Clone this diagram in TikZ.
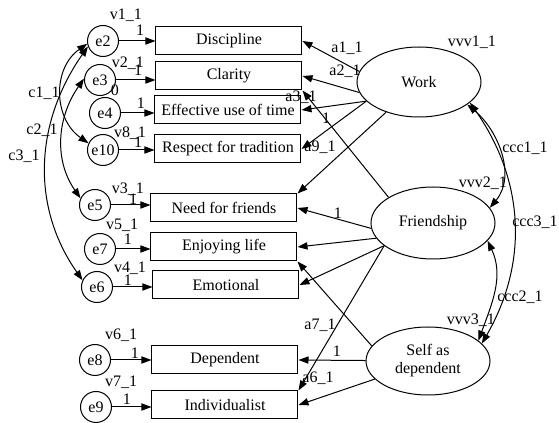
\documentclass[tikz,border=0pt]{standalone}
\usepackage{fontspec}
\setmainfont{Liberation Serif}
\usepackage{tikz}
\usetikzlibrary{shapes.geometric}
\usetikzlibrary{arrows.meta}
\usetikzlibrary{positioning}

\begin{document}
\begin{tikzpicture}[x=0.5pt,y=-0.5pt,line width=0.5pt,
font=\fontsize{8}{9}\selectfont,
>={Triangle[length=5pt,width=3.6pt]},
box/.style={draw,rectangle,minimum width=73pt,minimum height=14pt,inner sep=1pt},
err/.style={draw,circle,minimum size=15.5pt,inner sep=0pt},
lat/.style={draw,ellipse,minimum width=62pt,minimum height=35pt,inner sep=0pt,align=center},
lbl/.style={inner sep=0pt}]
\useasboundingbox (0,0) rectangle (559,423);
\node[box] (disc) at (229,41) {Discipline};
\node[box] (clar) at (229,76) {Clarity};
\node[box] (eff) at (228,110) {Effective use of time};
\node[box] (resp) at (228,149) {Respect for tradition};
\node[box] (need) at (224,208) {Need for friends};
\node[box] (enj) at (224,247) {Enjoying life};
\node[box] (emo) at (226,285) {Emotional};
\node[box] (dep) at (225,360) {Dependent};
\node[box] (ind) at (225,405) {Individualist};
\node[err] (e2) at (103,41) {e2};
\node[err] (e3) at (100,80) {e3};
\node[err] (e4) at (105,113) {e4};
\node[err] (e10) at (103,150) {e10};
\node[err] (e5) at (95,205) {e5};
\node[err] (e7) at (100,249) {e7};
\node[err] (e6) at (97,287) {e6};
\node[err] (e8) at (95,360) {e8};
\node[err] (e9) at (96,407) {e9};
\node[lat] (wk) at (419,82) {Work};
\node[lat,minimum height=36pt] (fr) at (433,223) {Friendship};
\node[lat,minimum height=34pt] (sd) at (428,361) {Self as\\dependent};
\foreach \e/\o in {e2/disc,e3/clar,e4/eff,e10/resp,e5/need,e7/enj,e6/emo,e8/dep,e9/ind}
\draw[->] (\e) -- (\e -| \o.west);
\draw[->] (wk.170) -- (disc.east);
\draw[->] (wk.190) -- (clar.east);
\draw[->] (wk.200) -- (eff.east);
\draw[->] (wk.200) -- (resp.east);
\draw[->] (wk) -- (need.north east);
\draw[->] (fr.150) -- (clar.south east);
\draw[->] (fr.185) -- (need.east);
\draw[->] (fr.195) -- (enj.east);
\draw[->] (fr) -- (emo.east);
\draw[->] (fr.205) -- (ind.north east);
\draw[->] (sd.165) -- (enj.south east);
\draw[->] (sd) -- (dep.east);
\draw[->] (sd) -- (ind.east);
\draw[<->] (e2.190) to[out=215,in=145,looseness=1.1] (e10.155);
\draw[<->] (e3.175) to[out=235,in=125] (e5.155);
\draw[<->] (e2.200) to[out=235,in=125] (e6.155);
\draw[<->] (wk.-25) to[out=-40,in=50] (fr.15);
\draw[<->] (wk.-22) to[out=-55,in=60] (sd.18);
\draw[<->] (fr.-18) to[out=-65,in=70] (sd.22);
\node[lbl] (lv1) at (126,15) {v1\_1};
\node[lbl] (lv2) at (128,63) {v2\_1};
\node[lbl] (lv8) at (130,133) {v8\_1};
\node[lbl] (lv3) at (128,189) {v3\_1};
\node[lbl] (lv5) at (122,225) {v5\_1};
\node[lbl] (lv4) at (130,268) {v4\_1};
\node[lbl] (lv6) at (121,335) {v6\_1};
\node[lbl] (lv7) at (121,382) {v7\_1};
\node[lbl] (f2) at (140,30) {1};
\node[lbl] (f3) at (138,70) {1};
\node[lbl] (z3) at (115,90) {0};
\node[lbl] (f4) at (141,103) {1};
\node[lbl] (f10) at (138,142) {1};
\node[lbl] (f5) at (133,199) {1};
\node[lbl] (f7) at (128,239) {1};
\node[lbl] (f6) at (128,280) {1};
\node[lbl] (f8) at (135,353) {1};
\node[lbl] (f9) at (127,399) {1};
\node[lbl] (lc1) at (44,93) {c1\_1};
\node[lbl] (lc2) at (42,130) {c2\_1};
\node[lbl] (lc3) at (24,156) {c3\_1};
\node[lbl] (la1) at (347,48) {a1\_1};
\node[lbl] (la2) at (345,71) {a2\_1};
\node[lbl] (la3) at (301,97) {a3\_1};
\node[lbl] (lw1) at (326,118) {1};
\node[lbl] (la9) at (320,147) {a9\_1};
\node[lbl] (lf1) at (338,213) {1};
\node[lbl] (la7) at (320,325) {a7\_1};
\node[lbl] (ls1) at (337,351) {1};
\node[lbl] (la6) at (318,378) {a6\_1};
\node[lbl] (lvv1) at (472,42) {vvv1\_1};
\node[lbl] (lvv2) at (483,183) {vvv2\_1};
\node[lbl] (lvv3) at (471,320) {vvv3\_1};
\node[lbl] (lcc1) at (525,148) {ccc1\_1};
\node[lbl] (lcc3) at (535,222) {ccc3\_1};
\node[lbl] (lcc2) at (520,297) {ccc2\_1};
\end{tikzpicture}
\end{document}
